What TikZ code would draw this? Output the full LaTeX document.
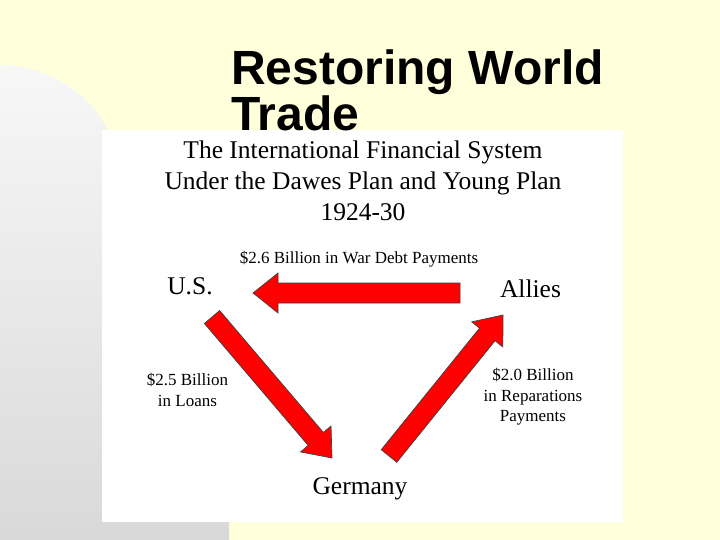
\documentclass[tikz,border=0pt]{standalone}
\usepackage{fontspec}
\setmainfont{Liberation Serif}
\newfontfamily\headfont{Liberation Sans}
\usepackage{xcolor}
\usepackage{tikz}
\usetikzlibrary{calc}
\usetikzlibrary{positioning}

\definecolor{slide}{HTML}{FFFFDC}
\definecolor{flowred}{HTML}{FF0000}

\tikzset{
  flow/.style={fill=flowred, draw=black!75, line width=0.7pt, line join=miter,
    to path={($(\tikztostart)!10pt!90:(\tikztotarget)$)
      -- ($(\tikztotarget)!26.93pt!-21.8:(\tikztostart)$)
      -- ($(\tikztotarget)!32.02pt!-38.66:(\tikztostart)$)
      -- (\tikztotarget)
      -- ($(\tikztotarget)!32.02pt!38.66:(\tikztostart)$)
      -- ($(\tikztotarget)!26.93pt!21.8:(\tikztostart)$)
      -- ($(\tikztostart)!10pt!-90:(\tikztotarget)$) -- cycle}},
  country/.style={rectangle, inner sep=0pt, anchor=base, font=\fontsize{25.5}{31}\selectfont},
  amount/.style={rectangle, inner sep=0pt, align=center, font=\fontsize{17}{20.5}\selectfont}
}

\begin{document}
\begin{tikzpicture}[x=1pt, y=-1pt]
\useasboundingbox (0,0) rectangle (720,540);
\fill [slide] (0,0) rectangle (720,540);
\shade [top color=white!97!black, bottom color=black!15] (0,540) -- (0,65) arc (-90:0:122) -- (229,187) -- (229,540) -- cycle;
\fill [white] (102,130) rectangle (623,522);

\node [rectangle, inner sep=0pt, anchor=north west, align=left, font=\headfont\bfseries\fontsize{48}{40}\selectfont] (title) at (231,50) {Restoring World\\Trade};
\node [rectangle, inner sep=0pt, anchor=north, align=center, font=\fontsize{25.5}{31}\selectfont] (system) at (363,141) {The International Financial System\\Under the Dawes Plan and Young Plan\\1924-30};

\node [country] (US) at (190,294) {U.S.};
\node [country] (AL) at (530.5,297) {Allies};
\node [country] (DE) at (360,494) {Germany};

\node [amount, anchor=base] (debt) at (359,263) {\$2.6 Billion in War Debt Payments};
\node [amount, anchor=north] (loans) at (187.5,373) {\$2.5 Billion\\in Loans};
\node [amount, anchor=north] (repar) at (533,368) {\$2.0 Billion\\in Reparations\\Payments};

\coordinate (debtA) at (460,293);
\coordinate (debtU) at (253,293);
\coordinate (loanU) at (212,317);
\coordinate (loanD) at (332,458);
\coordinate (reparD) at (389,456);
\coordinate (reparA) at (503,315);
\draw [flow] (debtA) to (debtU);
\draw [flow] (loanU) to (loanD);
\draw [flow] (reparD) to (reparA);
\end{tikzpicture}
\end{document}
